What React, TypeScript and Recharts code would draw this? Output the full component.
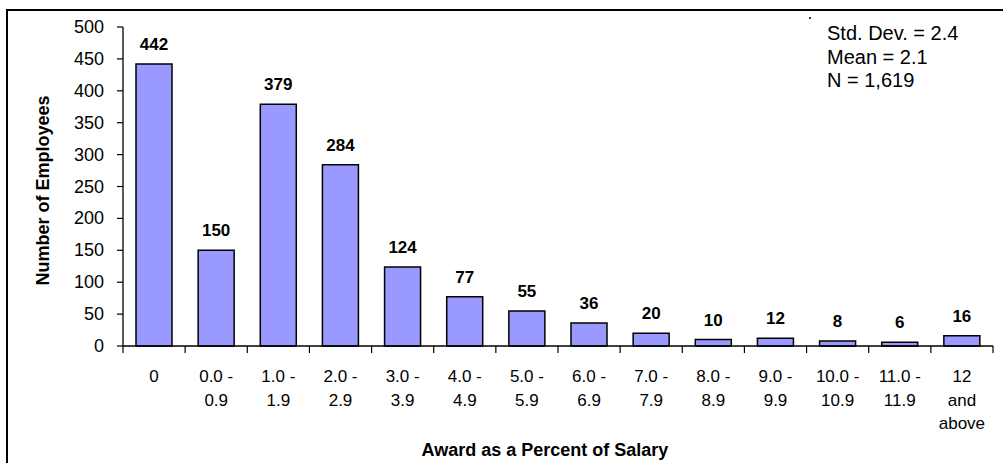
import React from 'react';
import { BarChart, Bar, XAxis, YAxis, LabelList } from 'recharts';

const categories: string[] = [
  '0',
  '0.0 -\n0.9',
  '1.0 -\n1.9',
  '2.0 -\n2.9',
  '3.0 -\n3.9',
  '4.0 -\n4.9',
  '5.0 -\n5.9',
  '6.0 -\n6.9',
  '7.0 -\n7.9',
  '8.0 -\n8.9',
  '9.0 -\n9.9',
  '10.0 -\n10.9',
  '11.0 -\n11.9',
  '12\nand\nabove',
];
const employees: number[] = [442, 150, 379, 284, 124, 77, 55, 36, 20, 10, 12, 8, 6, 16];
const yTicks: number[] = [0, 50, 100, 150, 200, 250, 300, 350, 400, 450, 500];
const statsLines: string[] = ['Std. Dev. = 2.4', 'Mean = 2.1', 'N = 1,619'];

const data = categories.map((c, i) => ({ category: c, value: employees[i] }));

const FONT = '"Liberation Sans", Arial, Helvetica, sans-serif';

const XTick = (props: any) => {
  const { x, y, payload, index } = props;
  const half = payload && payload.offset ? payload.offset : 31;
  const lines = String(payload.value).split('\n');
  const last = index === categories.length - 1;
  return (
    <g>
      <line x1={x - half} x2={x - half} y1={y} y2={y + 7} stroke="#000" strokeWidth={1.2} />
      {last && <line x1={x + half} x2={x + half} y1={y} y2={y + 7} stroke="#000" strokeWidth={1.2} />}
      <text x={x} y={y + 36} textAnchor="middle" fontFamily={FONT} fontSize={17} fill="#000">
        {lines.map((l, i) => (
          <tspan key={i} x={x} dy={i === 0 ? 0 : 23.5}>
            {l}
          </tspan>
        ))}
      </text>
    </g>
  );
};

const YTick = (props: any) => {
  const { x, y, payload } = props;
  return (
    <text x={x} y={y} dy={6} textAnchor="end" fontFamily={FONT} fontSize={18} fill="#000">
      {payload.value}
    </text>
  );
};

export default function App() {
  return (
    <div style={{ position: 'absolute', left: 0, top: 0, width: 1003, height: 463, background: '#fff', overflow: 'hidden' }}>
      <div
        style={{
          position: 'absolute',
          left: 6,
          top: 9,
          width: 1010,
          height: 470,
          borderLeft: '2px solid #000',
          borderTop: '2px solid #000',
          boxSizing: 'border-box',
        }}
      />
      <div style={{ position: 'absolute', left: 0, top: 0 }}>
        <BarChart width={1003} height={463} data={data} margin={{ top: 27, right: 10, bottom: 0, left: 0 }}>
          <XAxis
            dataKey="category"
            height={117}
            tickLine={false}
            tickSize={0}
            tickMargin={0}
            interval={0}
            axisLine={{ stroke: '#000', strokeWidth: 1.3 }}
            tick={<XTick />}
            label={{
              content: (p: any) => {
                const vb = p.viewBox || { x: 123, width: 870 };
                return (
                  <text
                    x={vb.x + vb.width / 2 - 13}
                    y={456}
                    textAnchor="middle"
                    fontFamily={FONT}
                    fontWeight="bold"
                    fontSize={18}
                    fill="#000"
                  >
                    Award as a Percent of Salary
                  </text>
                );
              },
            }}
          />
          <YAxis
            width={123}
            domain={[0, 500]}
            ticks={yTicks}
            interval={0}
            tickSize={6}
            tickMargin={13}
            axisLine={{ stroke: '#000', strokeWidth: 1.3 }}
            tickLine={{ stroke: '#000', strokeWidth: 1.2 }}
            tick={<YTick />}
            label={{
              content: (p: any) => {
                const vb = p.viewBox || { y: 27, height: 319 };
                const cy = vb.y + vb.height / 2 + 4;
                return (
                  <text
                    x={43}
                    y={cy}
                    transform={`rotate(-90, 43, ${cy})`}
                    textAnchor="middle"
                    dominantBaseline="central"
                    fontFamily={FONT}
                    fontWeight="bold"
                    fontSize={18}
                    fill="#000"
                  >
                    Number of Employees
                  </text>
                );
              },
            }}
          />
          <Bar dataKey="value" fill="#9999FF" stroke="#000" strokeWidth={1.5} barSize={36} isAnimationActive={false}>
            <LabelList
              dataKey="value"
              position="top"
              offset={14}
              style={{ fontFamily: FONT, fontWeight: 'bold', fontSize: 17, fill: '#000' }}
            />
          </Bar>
        </BarChart>
      </div>
      <div
        style={{
          position: 'absolute',
          left: 809,
          top: 17,
          width: 2,
          height: 2,
          background: '#333',
        }}
      />
      <div
        style={{
          position: 'absolute',
          left: 827,
          top: 22,
          fontFamily: FONT,
          fontSize: 20,
          lineHeight: '23.5px',
          color: '#000',
          whiteSpace: 'pre',
        }}
      >
        {statsLines.map((s, i) => (
          <div key={i}>{s}</div>
        ))}
      </div>
    </div>
  );
}
